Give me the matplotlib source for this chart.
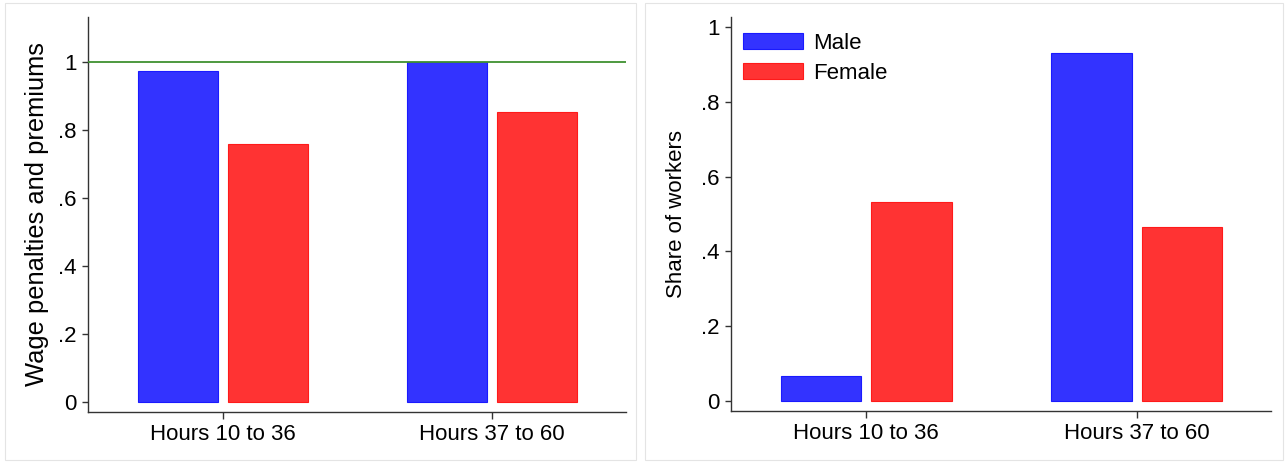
import matplotlib
matplotlib.use("Agg")
import matplotlib.pyplot as plt
import numpy as np
from matplotlib.patches import Rectangle

plt.rcParams["font.family"] = ["Liberation Sans", "DejaVu Sans"]

categories = ["Hours 10 to 36", "Hours 37 to 60"]
series = ["Male", "Female"]
wage_male = [0.971, 1.0]
wage_female = [0.759, 0.853]
share_male = [0.067, 0.930]
share_female = [0.532, 0.465]
wage_ticks = [0, 0.2, 0.4, 0.6, 0.8, 1]
share_ticks = [0, 0.2, 0.4, 0.6, 0.8, 1]
tick_labels = ["0", ".2", ".4", ".6", ".8", "1"]

BLUE = "#3333ff"
RED = "#ff3333"
BLUE_EDGE = "#1a1aff"
RED_EDGE = "#ff1a1a"
WIDTH = 0.297
OFFSET = 0.167
W, H = 1288, 463


def px_axes(x0, y0, x1, y1):
    # pixel box (top-left origin) -> figure fraction rect
    return [x0 / W, 1 - y1 / H, (x1 - x0) / W, (y1 - y0) / H]


def draw_bars(ax, male, female):
    x = np.arange(len(categories))
    ax.bar(x - OFFSET, male, WIDTH, color=BLUE, edgecolor=BLUE_EDGE, lw=0.8, label=series[0])
    ax.bar(x + OFFSET, female, WIDTH, color=RED, edgecolor=RED_EDGE, lw=0.8, label=series[1])
    ax.set_xticks(x)
    ax.set_xticklabels(categories, fontsize=16)
    ax.set_xlim(-0.5, 1.497)
    for side in ["top", "right"]:
        ax.spines[side].set_visible(False)
    for side in ["left", "bottom"]:
        ax.spines[side].set_color("#333333")
        ax.spines[side].set_linewidth(1.0)
    ax.tick_params(axis="x", direction="out", length=5, color="#333333", width=1.0, pad=3.5)
    ax.tick_params(axis="y", direction="out", length=4.5, color="#333333", width=1.0,
                   labelsize=16, pad=3.5)


fig = plt.figure(figsize=(W / 100, H / 100), dpi=100)

# panel frames like a combined graph
for x0, x1 in [(5, 636), (645, 1283)]:
    fig.patches.append(Rectangle((x0 / W, 3 / H), (x1 - x0) / W, 457 / H,
                                 transform=fig.transFigure, fill=False,
                                 edgecolor="#e4e4e4", lw=0.8))

ax1 = fig.add_axes(px_axes(88, 17, 626, 412))
draw_bars(ax1, wage_male, wage_female)
ax1.axhline(1, color="#3f9130", lw=1.3, zorder=3)
ax1.set_ylim(-0.030, 1.131)
ax1.set_yticks(wage_ticks)
ax1.set_yticklabels(tick_labels)
ax1.set_ylabel("Wage penalties and premiums", fontsize=18.4, labelpad=7)

ax2 = fig.add_axes(px_axes(731, 17, 1271, 411))
draw_bars(ax2, share_male, share_female)
ax2.set_ylim(-0.0267, 1.027)
ax2.set_yticks(share_ticks)
ax2.set_yticklabels(tick_labels)
ax2.set_ylabel("Share of workers", fontsize=16, labelpad=10)
ax2.legend(loc="upper left", frameon=False, fontsize=16, handlelength=2.7,
           handleheight=0.72, labelspacing=0.39, handletextpad=0.45,
           borderpad=0, borderaxespad=0,
           bbox_to_anchor=(11.7 / 540, 1 - 16 / 394))

fig.savefig("out.png", dpi=100)
